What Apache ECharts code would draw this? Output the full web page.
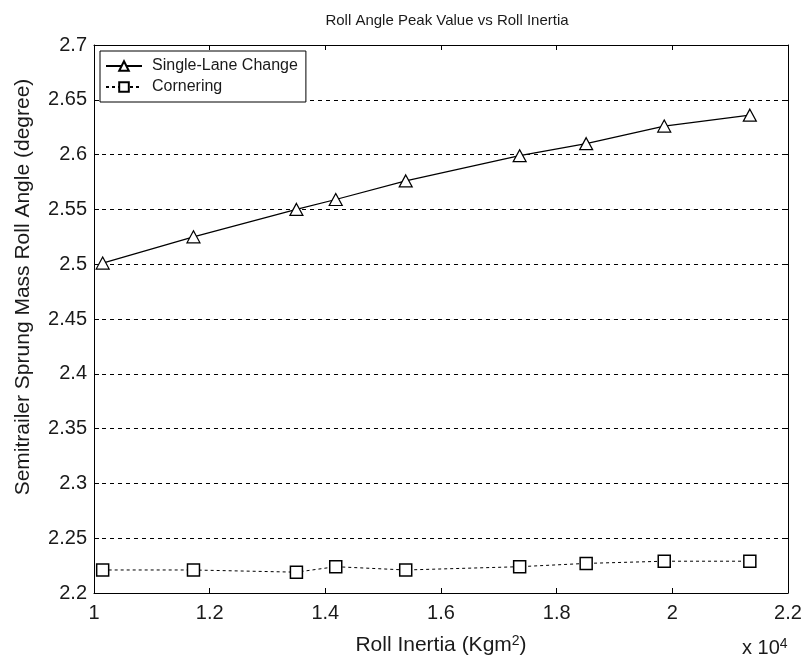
<!DOCTYPE html>
<html>
<head>
<meta charset="utf-8">
<script src="https://cdn.jsdelivr.net/npm/echarts@6/dist/echarts.min.js"></script>
<style>html,body{margin:0;padding:0;background:#fff}#c{width:806px;height:659px}</style>
</head>
<body>
<div id="c"></div>
<script>
var rollInertia = [1.015, 1.172, 1.350, 1.418, 1.539, 1.736, 1.851, 1.986, 2.134];
var singleLane = [2.501, 2.525, 2.550, 2.559, 2.576, 2.599, 2.610, 2.626, 2.636];
var cornering = [2.221, 2.221, 2.219, 2.224, 2.221, 2.224, 2.227, 2.229, 2.229];
var seriesNames = ['Single-Lane Change', 'Cornering'];

function pairs(xs, ys) { return xs.map(function (x, i) { return [x, ys[i]]; }); }
var FONT = 'Liberation Sans, Arial, sans-serif';
var TXT = '#1a1a1a';

var chart = echarts.init(document.getElementById('c'), null, { renderer: 'canvas' });
var tickCommon = { show: true, inside: true, length: 5, lineStyle: { color: '#000', width: 1 } };
var fmt = function (v) { return String(+v.toFixed(2)); };
chart.setOption({
  backgroundColor: '#fff',
  animation: false,
  title: {
    text: 'Roll Angle Peak Value vs Roll Inertia',
    left: 442, top: 8, textAlign: 'center',
    textStyle: { fontFamily: FONT, fontSize: 15, fontWeight: 'normal', color: TXT }
  },
  grid: { left: 94, right: 18, top: 45, bottom: 66, show: false, containLabel: false, outerBoundsMode: 'none' },
  legend: {
    left: 100, top: 51, orient: 'vertical',
    padding: [7, 8, 7, 5], itemGap: 5, itemWidth: 36, itemHeight: 12,
    borderColor: '#000', borderWidth: 1, backgroundColor: '#fff',
    textStyle: { fontFamily: FONT, fontSize: 16, color: TXT, padding: [0, 0, 0, 5] },
    data: seriesNames
  },
  xAxis: [{
    type: 'value', min: 1, max: 2.2, interval: 0.2, position: 'bottom',
    axisLine: { show: true, onZero: false, lineStyle: { color: '#000' } },
    axisTick: tickCommon,
    splitLine: { show: false },
    axisLabel: { fontFamily: FONT, fontSize: 20, color: TXT, margin: 10, formatter: fmt },
    name: 'Roll Inertia (Kgm{s|2})', nameLocation: 'middle', nameGap: 41,
    nameTextStyle: { fontFamily: FONT, fontSize: 21, color: TXT,
      rich: { s: { fontFamily: FONT, fontSize: 14, color: TXT, verticalAlign: 'top', padding: [0, 0, 8, 0] } } }
  }, {
    type: 'value', min: 1, max: 2.2, interval: 0.2, position: 'top',
    axisLine: { show: true, onZero: false, lineStyle: { color: '#000' } },
    axisTick: tickCommon, axisLabel: { show: false }, splitLine: { show: false }
  }],
  yAxis: [{
    type: 'value', min: 2.2, max: 2.7, interval: 0.05, position: 'left',
    axisLine: { show: true, onZero: false, lineStyle: { color: '#000' } },
    axisTick: tickCommon,
    splitLine: { show: true, lineStyle: { color: '#000', type: [4, 4], width: 1 } },
    axisLabel: { fontFamily: FONT, fontSize: 20, color: TXT, margin: 7, formatter: fmt },
    name: 'Semitrailer Sprung Mass Roll Angle (degree)', nameLocation: 'middle', nameGap: 60,
    nameTextStyle: { fontFamily: FONT, fontSize: 21, color: TXT, padding: [0, 0, 0, 64] }
  }, {
    type: 'value', min: 2.2, max: 2.7, interval: 0.05, position: 'right',
    axisLine: { show: true, onZero: false, lineStyle: { color: '#000' } },
    axisTick: tickCommon, axisLabel: { show: false }, splitLine: { show: false }
  }],
  graphic: [{
    type: 'text', left: 742, top: 637,
    style: { text: 'x 10{s|4}', fontFamily: FONT, fontSize: 20, fill: TXT,
      rich: { s: { fontFamily: FONT, fontSize: 14, fill: TXT, verticalAlign: 'top', padding: [0, 0, 8, 0] } } }
  }],
  series: [{
    name: seriesNames[0], type: 'line', data: pairs(rollInertia, singleLane),
    symbol: 'triangle', symbolSize: [13, 12],
    itemStyle: { color: '#fff', borderColor: '#000', borderWidth: 1.2 },
    lineStyle: { color: '#000', width: 1.2 }
  }, {
    name: seriesNames[1], type: 'line', data: pairs(rollInertia, cornering),
    symbol: 'rect', symbolSize: 12,
    itemStyle: { color: '#fff', borderColor: '#000', borderWidth: 1.5 },
    lineStyle: { color: '#000', width: 1, type: [3, 3] }
  }]
});
</script>
</body>
</html>
